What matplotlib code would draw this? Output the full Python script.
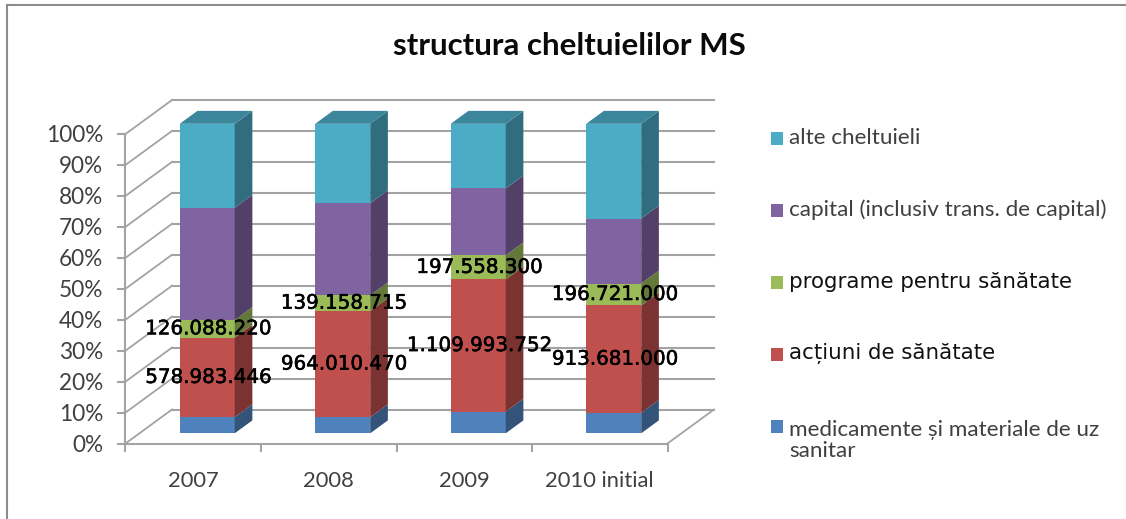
import matplotlib
matplotlib.use("Agg")
import matplotlib.pyplot as plt
import matplotlib.patheffects as pe
from matplotlib.lines import Line2D
from matplotlib.patches import Rectangle
from matplotlib.colors import to_rgb

categories = ["2007", "2008", "2009", "2010 initial"]
medicamente = [5.2, 5.2, 7.0, 6.6]
actiuni = [25.7, 34.3, 42.7, 34.7]
programe = [5.7, 5.1, 7.8, 7.1]
capital = [36.3, 29.7, 21.6, 21.0]
alte = [27.1, 25.7, 20.9, 30.6]
actiuni_labels = ["578.983.446", "964.010.470", "1.109.993.752", "913.681.000"]
programe_labels = ["126.088.220", "139.158.715", "197.558.300", "196.721.000"]
series_names = ["medicamente și materiale de uz\nsanitar", "acțiuni de sănătate",
                "programe pentru sănătate", "capital (inclusiv trans. de capital)",
                "alte cheltuieli"]
series_values = [medicamente, actiuni, programe, capital, alte]
series_colors = ["#4F81BD", "#C0504D", "#9BBB59", "#8064A2", "#4BACC6"]

W, H = 1126, 519
fig = plt.figure(figsize=(W / 100, H / 100), dpi=100, facecolor="white")
L, R, T, B = 125.5, 667.5, 134, 443.5
ax = fig.add_axes([L / W, 1 - B / H, (R - L) / W, (B - T) / H])
ax.set_xlim(0, 4)
ax.set_ylim(0, 100)
ax.patch.set_visible(False)

# oblique projection: depth 1 = back wall
DX = 46.5 / ((R - L) / 4)
DY = 34 / ((B - T) / 100)
def P(x, y, d):
    return x + d * DX, y + d * DY

GRID = "#A3A3A3"
for s in ["top", "right"]:
    ax.spines[s].set_visible(False)
for s in ["left", "bottom"]:
    ax.spines[s].set_color(GRID)
    ax.spines[s].set_linewidth(1.5)

yt = list(range(0, 101, 10))
ax.set_yticks(yt)
ax.set_yticklabels([f"{v}%" for v in yt], fontsize=16.3, family="Lato", color="#404040")
ax.set_xticks(range(5))
ax.set_xticklabels([])
ax.set_xticks([i + 0.5 for i in range(4)], minor=True)
ax.set_xticklabels(categories, minor=True, fontsize=15.8, family="Lato", color="#404040")
ax.tick_params(axis="y", length=6, width=1.5, color=GRID, pad=10)
ax.tick_params(axis="x", which="major", length=6, width=1.5, color=GRID)
ax.tick_params(axis="x", which="minor", length=0, pad=20)

# walls and floor
for v in yt:
    xs, ys = zip(P(0, v, 0), P(0, v, 1))
    ax.plot(xs, ys, color=GRID, lw=1.3, clip_on=False, zorder=1)
    xs, ys = zip(P(0, v, 1), P(4, v, 1))
    ax.plot(xs, ys, color=GRID, lw=1.5, clip_on=False, zorder=1)
xs, ys = zip(P(4, 0, 0), P(4, 0, 1))
ax.plot(xs, ys, color=GRID, lw=1.3, clip_on=False, zorder=1)

D0, D1 = 0.30, 0.68
BW = 55 / ((R - L) / 4)

def shade(c, f):
    return tuple(v * f for v in to_rgb(c))

for i in range(4):
    x0, x1 = i + 0.5 - BW / 2, i + 0.5 + BW / 2
    base = 0
    for vals, col in zip(series_values, series_colors):
        top = base + vals[i]
        fx, fy = P(i + 0.5, base, D0)
        ax.bar(fx, vals[i], BW, bottom=fy, color=col, clip_on=False, zorder=3, lw=0)
        side = [P(x1, base, D0), P(x1, base, D1), P(x1, top, D1), P(x1, top, D0)]
        ax.fill(*zip(*side), color=shade(col, 0.64), clip_on=False, zorder=3, lw=0)
        base = top
    lid = [P(x0, base, D0), P(x1, base, D0), P(x1, base, D1), P(x0, base, D1)]
    ax.fill(*zip(*lid), color=shade(series_colors[-1], 0.78), clip_on=False, zorder=3, lw=0)

    for bot, val, lab in [(medicamente[i], actiuni[i], actiuni_labels[i]),
                          (medicamente[i] + actiuni[i], programe[i], programe_labels[i])]:
        lx, ly = P(i + 0.5, bot + val / 2, D0)
        t = ax.text(lx + 0.01, ly, lab, ha="center", va="center", fontsize=14.3,
                    family="DejaVu Sans", color="black", zorder=5, clip_on=False)
        t.set_path_effects([pe.withStroke(linewidth=0.4, foreground="black")])

fig.text(569.5 / W, 1 - 46 / H, "structura cheltuielilor MS", ha="center", va="center",
         fontsize=22.5, family="Lato", fontweight="bold", color="#0A0A0A")

# outer frame
for xs, ys in [((7.5, 7.5), (5, H)), ((7.5, W), (5, 5))]:
    fig.add_artist(Line2D([x / W for x in xs], [1 - y / H for y in ys],
                          color="#8C8C8C", lw=1.5))

# legend
legend_y = [426, 354, 282, 210, 138]
legend_font = [("Lato", 16.2, "#404040"), ("DejaVu Sans", 15.4, "#101010"),
               ("DejaVu Sans", 15.4, "#101010"), ("Lato", 16.2, "#404040"),
               ("Lato", 16.2, "#404040")]
for name, col, y, (fam, fs, tc) in zip(series_names, series_colors, legend_y, legend_font):
    fig.add_artist(Rectangle((770.5 / W, 1 - (y + 6.5) / H), 12.5 / W, 13 / H,
                             facecolor=col, edgecolor="none", transform=fig.transFigure))
    yc = y + 14.5 if "\n" in name else y
    fig.text(789 / W, 1 - yc / H, name, ha="left", va="center", fontsize=fs,
             family=fam, color=tc, linespacing=1.1)

fig.savefig("out.png", dpi=100)
